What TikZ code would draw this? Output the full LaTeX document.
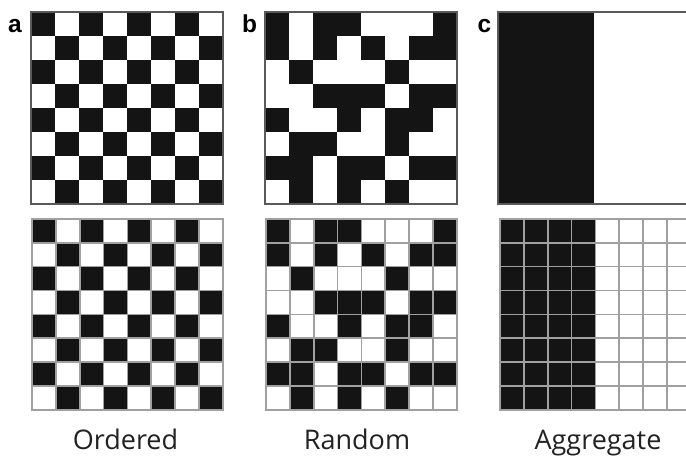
\documentclass[tikz,border=0pt]{standalone}
\usepackage{fontspec}
\newfontfamily\lblfont{Open Sans}
\newfontfamily\tagfont{Liberation Sans}[BoldFont={Liberation Sans Bold}]
\definecolor{ink}{HTML}{141414}
\definecolor{framegray}{HTML}{5A5A5A}
\definecolor{linegray}{HTML}{A0A0A0}
\definecolor{captink}{HTML}{222222}
\begin{document}
\begin{tikzpicture}[x=1pt,y=-1pt,
  cellfill/.style={fill=ink},
  frameline/.style={draw=framegray,line width=1.8pt},
  gridline/.style={draw=linegray,line width=1.6pt},
  paneltag/.style={font=\tagfont\bfseries\fontsize{24.5}{28}\selectfont,anchor=base,inner sep=0pt},
  caption/.style={font=\lblfont\fontsize{27}{32}\selectfont,anchor=base,inner sep=0pt,text=captink}]
\useasboundingbox (0,0) rectangle (686,457);
\clip (0,0) rectangle (686,457);
\fill[white] (0,0) rectangle (686,457);
% patterns
\def\patA{{1,0,1,0,1,0,1,0},{0,1,0,1,0,1,0,1},{1,0,1,0,1,0,1,0},{0,1,0,1,0,1,0,1},{1,0,1,0,1,0,1,0},{0,1,0,1,0,1,0,1},{1,0,1,0,1,0,1,0},{0,1,0,1,0,1,0,1}}
\def\patB{{1,0,1,1,0,0,0,1},{1,0,1,0,1,0,1,1},{0,1,0,0,0,1,0,0},{0,0,1,1,1,0,1,1},{1,0,0,1,0,1,1,0},{0,1,1,0,0,1,0,0},{1,1,0,1,1,0,1,1},{0,1,0,1,0,1,0,0}}
\def\patC{{1,1,1,1,0,0,0,0},{1,1,1,1,0,0,0,0},{1,1,1,1,0,0,0,0},{1,1,1,1,0,0,0,0},{1,1,1,1,0,0,0,0},{1,1,1,1,0,0,0,0},{1,1,1,1,0,0,0,0},{1,1,1,1,0,0,0,0}}
% grid drawing: x0, y0, cell, pattern, grid lines (1) or frame only (0)
\newcommand\mygrid[5]{%
  \foreach \rw [count=\r from 0] in #4 {
    \foreach \v [count=\c from 0] in \rw {
      \ifnum\v=1
        \fill[cellfill] ({#1+\c*#3},{#2+\r*#3}) rectangle ++(#3,#3);
      \fi
    }
  }
  \ifnum#5=1
    \foreach \k in {1,...,7} {
      \draw[gridline] ({#1+\k*#3},#2) -- ++(0,{8*#3});
      \draw[gridline] (#1,{#2+\k*#3}) -- ++({8*#3},0);
    }
    \draw[gridline] (#1,#2) rectangle ++({8*#3},{8*#3});
  \else
    \draw[frameline] (#1,#2) rectangle ++({8*#3},{8*#3});
  \fi
}
% top row
\mygrid{31}{12}{24}{\patA}{0}
\mygrid{265}{12}{24}{\patB}{0}
\mygrid{498}{12}{24}{\patC}{0}
% bottom row
\mygrid{32}{219}{23.85}{\patA}{1}
\mygrid{266}{219}{23.85}{\patB}{1}
\mygrid{500}{219}{23.85}{\patC}{1}
% panel tags
\node[paneltag] (ta) at (15,33) {a};
\node[paneltag] (tb) at (249.5,33) {b};
\node[paneltag] (tc) at (484.5,33) {c};
% captions
\node[caption] (ca) at (125.5,449) {Ordered};
\node[caption] (cb) at (357,449) {Random};
\node[caption] (cc) at (598,449) {Aggregate};
\end{tikzpicture}
\end{document}
